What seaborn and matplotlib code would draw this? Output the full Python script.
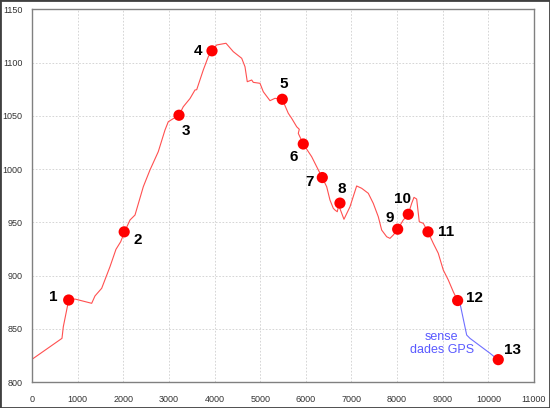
import matplotlib
matplotlib.use("Agg")
import matplotlib.pyplot as plt
import seaborn as sns
import pandas as pd
from matplotlib.patches import Rectangle

# Elevation profile (GPS track), red segment
track_x = [0, 657, 686, 804, 942, 1308, 1380, 1527, 1709, 1840, 1943, 2027, 2147, 2257,
           2439, 2585, 2767, 2914, 2986, 3221, 3315, 3462, 3571, 3609, 3753, 3863, 3944,
           4047, 4251, 4411, 4595, 4667, 4717, 4814, 4849, 4996, 5068, 5215, 5324, 5484,
           5616, 5690, 5800, 5857, 5835, 5944, 6128, 6238, 6361, 6457, 6529, 6602, 6639,
           6689, 6720, 6836, 6968, 7114, 7224, 7369, 7478, 7588, 7662, 7772, 7844, 7916,
           8013, 8135, 8245, 8320, 8370, 8429, 8486, 8574, 8677, 8793, 8902, 9012, 9122,
           9231, 9327]
track_y = [821.3, 841.0, 851.9, 877.0, 877.9, 873.9, 880.8, 888.0, 908.3, 924.6, 931.7,
           940.9, 952.1, 956.8, 983.4, 999.1, 1016.3, 1036.6, 1044.4, 1050.7, 1058.5,
           1066.2, 1074.2, 1074.5, 1093.0, 1105.5, 1111.1, 1116.5, 1118.1, 1110.2, 1104.0,
           1096.1, 1082.0, 1083.6, 1081.4, 1080.5, 1072.6, 1064.2, 1066.4, 1065.5, 1052.3,
           1047.6, 1039.7, 1037.3, 1033.5, 1023.5, 1011.6, 1002.2, 991.8, 983.4, 970.9,
           963.1, 961.5, 959.9, 966.0, 952.8, 964.6, 984.1, 981.9, 977.2, 967.8, 955.2,
           942.7, 936.4, 934.9, 938.0, 943.4, 952.1, 957.5, 967.8, 973.4, 971.8, 950.5,
           949.0, 940.9, 930.2, 920.9, 905.2, 895.8, 884.8, 876.3]

# Segment without GPS data, blue
nogps_x = [9327, 9378, 9525, 9597, 10035, 10217]
nogps_y = [876.3, 873.9, 844.1, 841.0, 827.0, 820.7]

# Numbered waypoints
wp_x = [804, 2020, 3221, 3944, 5484, 5944, 6361, 6748, 8013, 8245, 8677, 9327, 10217]
wp_y = [877, 941, 1050.5, 1111, 1065.5, 1023.5, 992, 968, 943.5, 957.5, 941, 876.5, 821]
wp_labels = ["1", "2", "3", "4", "5", "6", "7", "8", "9", "10", "11", "12", "13"]

x_ticks = list(range(0, 11001, 1000))
y_ticks = list(range(800, 1151, 50))

sns.set_theme(style="white")
plt.rcParams["font.family"] = ["Liberation Sans", "DejaVu Sans"]

fig = plt.figure(figsize=(5.5, 4.08), dpi=100)
ax = fig.add_axes([32 / 550, 1 - 382 / 408, 502 / 550, (382 - 9.3) / 408])

df_track = pd.DataFrame({"x": track_x, "y": track_y})
df_nogps = pd.DataFrame({"x": nogps_x, "y": nogps_y})
df_wp = pd.DataFrame({"x": wp_x, "y": wp_y, "label": wp_labels})

sns.lineplot(data=df_track, x="x", y="y", ax=ax, color="#ff5050", linewidth=0.8,
             sort=False, estimator=None)
sns.lineplot(data=df_nogps, x="x", y="y", ax=ax, color="#6f6fff", linewidth=0.8,
             sort=False, estimator=None)
sns.scatterplot(data=df_wp, x="x", y="y", ax=ax, color="#ff0000", s=65,
                edgecolor="none", zorder=5)

offsets = {
    "1": (-11, 2), "2": (10, -6), "3": (5, -11), "4": (-10, 0), "5": (1, 11),
    "6": (-7, -9), "7": (-9, -3), "8": (1, 10), "9": (-6, 8), "10": (-4, 11),
    "11": (13, 0), "12": (12, 2), "13": (10, 7),
}
for xv, yv, lab in zip(wp_x, wp_y, wp_labels):
    ax.annotate(lab, (xv, yv), xytext=offsets[lab], textcoords="offset points",
                ha="center", va="center", fontsize=11, fontweight="bold",
                color="black")

ax.text(8980, 836, "sense\ndades GPS", ha="center", va="center", fontsize=9,
        color="#5a5aff", linespacing=1.1)

ax.set_xlim(0, 11000)
ax.set_ylim(800, 1150)
ax.set_xticks(x_ticks)
ax.set_yticks(y_ticks)
ax.set_xticklabels([str(t) for t in x_ticks])
ax.set_yticklabels([str(t) for t in y_ticks])
ax.tick_params(axis="x", labelsize=6.5, colors="#333333", length=0, pad=9)
ax.tick_params(axis="y", labelsize=6.5, colors="#333333", length=0, pad=7)
ax.set_xlabel("")
ax.set_ylabel("")
ax.grid(True, color="#cfcfcf", linestyle=(0, (2, 2)), linewidth=0.6)
for sp in ax.spines.values():
    sp.set_color("#808080")
    sp.set_linewidth(1.0)

fig.patches.append(Rectangle((0, 0), 1, 1, transform=fig.transFigure, fill=False,
                             edgecolor="#404040", linewidth=2.0))

fig.savefig("out.png", dpi=100)
